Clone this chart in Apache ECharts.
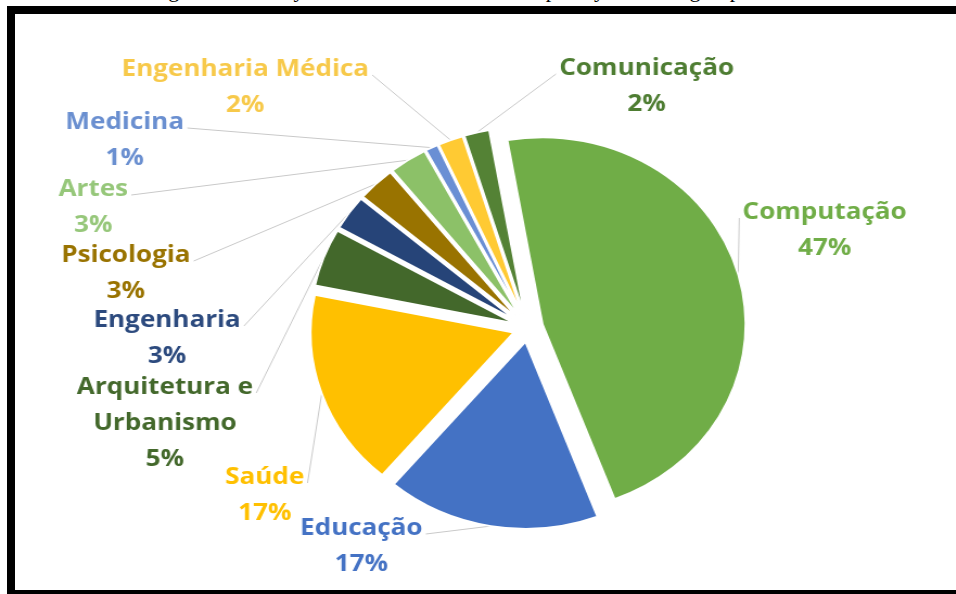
<!DOCTYPE html>
<html><head><meta charset="utf-8">
<script src="https://cdn.jsdelivr.net/npm/echarts@6/dist/echarts.min.js"></script>
<style>
html,body{margin:0;padding:0;background:#fff;overflow:hidden;width:956px;height:594px;}
#chart{position:absolute;left:0;top:0;width:881px;height:594px;transform:scaleX(1.085);transform-origin:0 0;}
#frame{position:absolute;left:7px;top:6px;width:1000px;height:576px;border:8px solid #000;}
#cap{position:absolute;left:150px;top:-21px;font-family:'Liberation Serif';font-size:22px;line-height:22px;white-space:nowrap;color:#000;}
</style></head>
<body>
<div id="cap">Figure 1 - Survey of areas of research developed by research group</div>
<div id="chart"></div>
<div id="frame"></div>
<script>
// data
var categories = ['Computação', 'Educação', 'Saúde', 'Arquitetura e\nUrbanismo', 'Engenharia', 'Psicologia', 'Artes', 'Medicina', 'Engenharia Médica', 'Comunicação'];
var values = [47, 17, 17, 5, 3, 3, 3, 1, 2, 2];
// styles
var sliceColors = ['#70AD47', '#4472C4', '#FFC000', '#43682B', '#264478', '#997300', '#8CC168', '#6A8FD4', '#FFCA33', '#548235'];
var labelColors = ['#70AD47', '#4472C4', '#FFC000', '#43682B', '#2C4A7E', '#997300', '#96C77A', '#6A8FD0', '#F7C94A', '#4E7D32'];
var labelPos = [[760, 230], [333, 546], [244, 495], [152, 423], [154, 338], [116, 273], [86, 207], [115, 140], [226, 87], [596, 86]];

var FONT_SIZE = 24, LINE_H = 36, FONT_FAMILY = 'Open Sans';
var OFFSET = 14, START = 100;
var PIE_CENTER = [486.6, 328], PIE_R = 187;

var chart = echarts.init(document.getElementById('chart'), null, {renderer: 'canvas'});
var seriesData = categories.map(function (c, i) {
  return {name: c, value: values[i], selected: true, itemStyle: {color: sliceColors[i]}};
});
chart.setOption({
  animation: false,
  series: [{
    type: 'pie',
    center: PIE_CENTER,
    radius: PIE_R,
    startAngle: START,
    clockwise: true,
    selectedMode: 'multiple',
    selectedOffset: OFFSET,
    emphasis: {disabled: true},
    itemStyle: {borderColor: '#ffffff', borderWidth: 1.8},
    label: {show: false},
    labelLine: {show: false},
    data: seriesData
  }]
});

// labels + leader lines, anchored on the library's own slice layout
var ctx = document.createElement('canvas').getContext('2d');
ctx.font = 'bold ' + FONT_SIZE + 'px "' + FONT_FAMILY + '"';
function sliceMid(i) {
  try {
    var lay = chart.getModel().getSeriesByIndex(0).getData().getItemLayout(i);
    return {cx: lay.cx, cy: lay.cy, r: lay.r, a: (lay.startAngle + lay.endAngle) / 2};
  } catch (e) {
    var total = values.reduce(function (s, v) { return s + v; }, 0);
    var acc = 0; for (var k = 0; k < i; k++) acc += values[k];
    var a0 = -START * Math.PI / 180 + acc / total * 2 * Math.PI;
    var a1 = a0 + values[i] / total * 2 * Math.PI;
    return {cx: PIE_CENTER[0], cy: PIE_CENTER[1], r: PIE_R, a: (a0 + a1) / 2};
  }
}
var elements = [];
categories.forEach(function (c, i) {
  var text = c + '\n' + values[i] + '%';
  var lines = text.split('\n');
  var w = 0; lines.forEach(function (l) { w = Math.max(w, ctx.measureText(l).width); });
  var h = lines.length * LINE_H;
  var p = labelPos[i];
  var left = p[0] - w / 2, right = p[0] + w / 2, top = p[1] - h / 2;
  var m = sliceMid(i);
  var ax = m.cx + Math.cos(m.a) * (m.r + OFFSET);
  var ay = m.cy + Math.sin(m.a) * (m.r + OFFSET);
  var ex = ax > right ? right + 3 : (ax < left ? left - 3 : ax);
  var ey = top + LINE_H / 2 + 6;
  elements.push({
    type: 'polyline', silent: true, z: 1,
    shape: {points: [[ax, ay], [ex, ey]]},
    style: {stroke: '#C9C9C9', lineWidth: 1, fill: null}
  });
  elements.push({
    type: 'text', silent: true, z: 2,
    x: p[0], y: p[1],
    style: {
      text: text, fill: labelColors[i],
      fontSize: FONT_SIZE, fontFamily: FONT_FAMILY, fontWeight: 'bold',
      lineHeight: LINE_H, align: 'center', verticalAlign: 'middle',
      textAlign: 'center', textVerticalAlign: 'middle'
    }
  });
});
chart.setOption({graphic: {elements: elements}});
</script>
</body></html>
